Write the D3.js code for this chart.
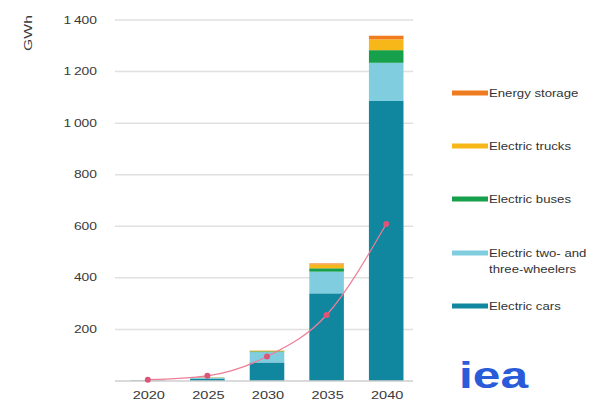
<!DOCTYPE html>
<html>
<head>
<meta charset="utf-8">
<script src="https://cdn.jsdelivr.net/npm/d3@7"></script>
<style>
  html, body { margin: 0; padding: 0; background: #fff; }
  svg { display: block; }
  text { font-family: "Liberation Sans", Arial, sans-serif; fill: #3a3a3a; }
</style>
</head>
<body>
<svg id="chart" width="598" height="405"></svg>
<script>
// Battery demand by application (GWh)
const years = ["2020", "2025", "2030", "2035", "2040"];
const seriesNames = ["Electric cars", "Electric two- and three-wheelers", "Electric buses", "Electric trucks", "Energy storage"];
const electricCars      = [1.5, 8, 72, 340, 1086];
const twoThreeWheelers  = [1, 4, 40, 84, 148];
const electricBuses     = [0.3, 1, 3, 13, 49];
const electricTrucks    = [0.2, 0.5, 2, 15, 42];
const energyStorage     = [0.2, 0.5, 1, 4, 14];
const trendLine         = [5, 20, 95, 256, 609];
const yTicks = [200, 400, 600, 800, 1000, 1200, 1400];
const colors = ["#11879f", "#80cde0", "#17a04b", "#f7b718", "#ef7d1f"];

const svg = d3.select("#chart");
const stretch = 1.32;

const x = d3.scaleBand().domain(years).range([118, 416]).paddingInner(0.42).paddingOuter(0.21);
const y = d3.scaleLinear().domain([0, 1400]).range([381, 20]);

const fmt = d3.formatLocale({ decimal: ",", thousands: "\u2009", grouping: [3], currency: ["", ""] }).format(",d");

// gridlines
svg.append("g").selectAll("line").data(yTicks).join("line")
  .attr("x1", 115).attr("x2", 413)
  .attr("y1", d => y(d)).attr("y2", d => y(d))
  .attr("stroke", "#e0e0e0").attr("stroke-width", 1.5);

// y tick labels
svg.append("g").selectAll("text").data(yTicks).join("text")
  .attr("transform", d => `translate(97,${y(d) + 3.5}) scale(${stretch},1)`)
  .attr("text-anchor", "end").attr("font-size", 10.5)
  .text(d => fmt(d));

// unit label
svg.append("text")
  .attr("transform", "translate(32,33) rotate(-90) scale(1.5,1)")
  .attr("text-anchor", "middle").attr("font-size", 10.5)
  .text("GWh");

// stacked bars
const rows = years.map((yr, i) => ({
  year: yr,
  "Electric cars": electricCars[i],
  "Electric two- and three-wheelers": twoThreeWheelers[i],
  "Electric buses": electricBuses[i],
  "Electric trucks": electricTrucks[i],
  "Energy storage": energyStorage[i]
}));
const stack = d3.stack().keys(seriesNames)(rows);
const color = d3.scaleOrdinal().domain(seriesNames).range(colors);

svg.append("g").selectAll("g").data(stack).join("g")
  .attr("fill", d => color(d.key))
  .selectAll("rect").data(d => d).join("rect")
  .attr("x", d => x(d.data.year))
  .attr("width", x.bandwidth())
  .attr("y", d => y(d[1]))
  .attr("height", d => y(d[0]) - y(d[1]));

// baseline
svg.append("line")
  .attr("x1", 115).attr("x2", 413)
  .attr("y1", y(0)).attr("y2", y(0))
  .attr("stroke", "#cfcfcf").attr("stroke-width", 1.5);

// trend line with markers
const line = d3.line()
  .x((d, i) => x(years[i]) + x.bandwidth() / 2)
  .y(d => y(d))
  .curve(d3.curveMonotoneX);
svg.append("path").datum(trendLine)
  .attr("d", line).attr("fill", "none")
  .attr("stroke", "#ec7f97").attr("stroke-width", 1.2);
svg.append("g").selectAll("circle").data(trendLine).join("circle")
  .attr("cx", (d, i) => x(years[i]) + x.bandwidth() / 2)
  .attr("cy", d => y(d))
  .attr("r", 3).attr("fill", "#dc5679");

// x labels
svg.append("g").selectAll("text").data(years).join("text")
  .attr("transform", d => `translate(${x(d) + x.bandwidth() / 2 + 1},${399}) scale(${stretch},1)`)
  .attr("text-anchor", "middle").attr("font-size", 11)
  .text(d => d);

// legend
const legendItems = [
  { key: "Energy storage", lines: ["Energy storage"], y: 93 },
  { key: "Electric trucks", lines: ["Electric trucks"], y: 146 },
  { key: "Electric buses", lines: ["Electric buses"], y: 199 },
  { key: "Electric two- and three-wheelers", lines: ["Electric two- and", "three-wheelers"], y: 253 },
  { key: "Electric cars", lines: ["Electric cars"], y: 306 }
];
const lg = svg.append("g").selectAll("g").data(legendItems).join("g");
lg.append("rect")
  .attr("x", 452).attr("width", 36)
  .attr("y", d => d.y - 2.5).attr("height", 5)
  .attr("fill", d => color(d.key));
lg.each(function(d) {
  d3.select(this).selectAll("text").data(d.lines).join("text")
    .attr("transform", (t, i) => `translate(489,${d.y + 3.5 + i * 16}) scale(${stretch},1)`)
    .attr("font-size", 10)
    .style("fill", "#333")
    .text(t => t);
});

// logo
svg.append("text")
  .attr("transform", `translate(459,388) scale(1.38,1)`)
  .attr("font-size", 36).attr("font-weight", 900)
  .style("fill", "#2a5bd9")
  .text("iea");
</script>
</body>
</html>
